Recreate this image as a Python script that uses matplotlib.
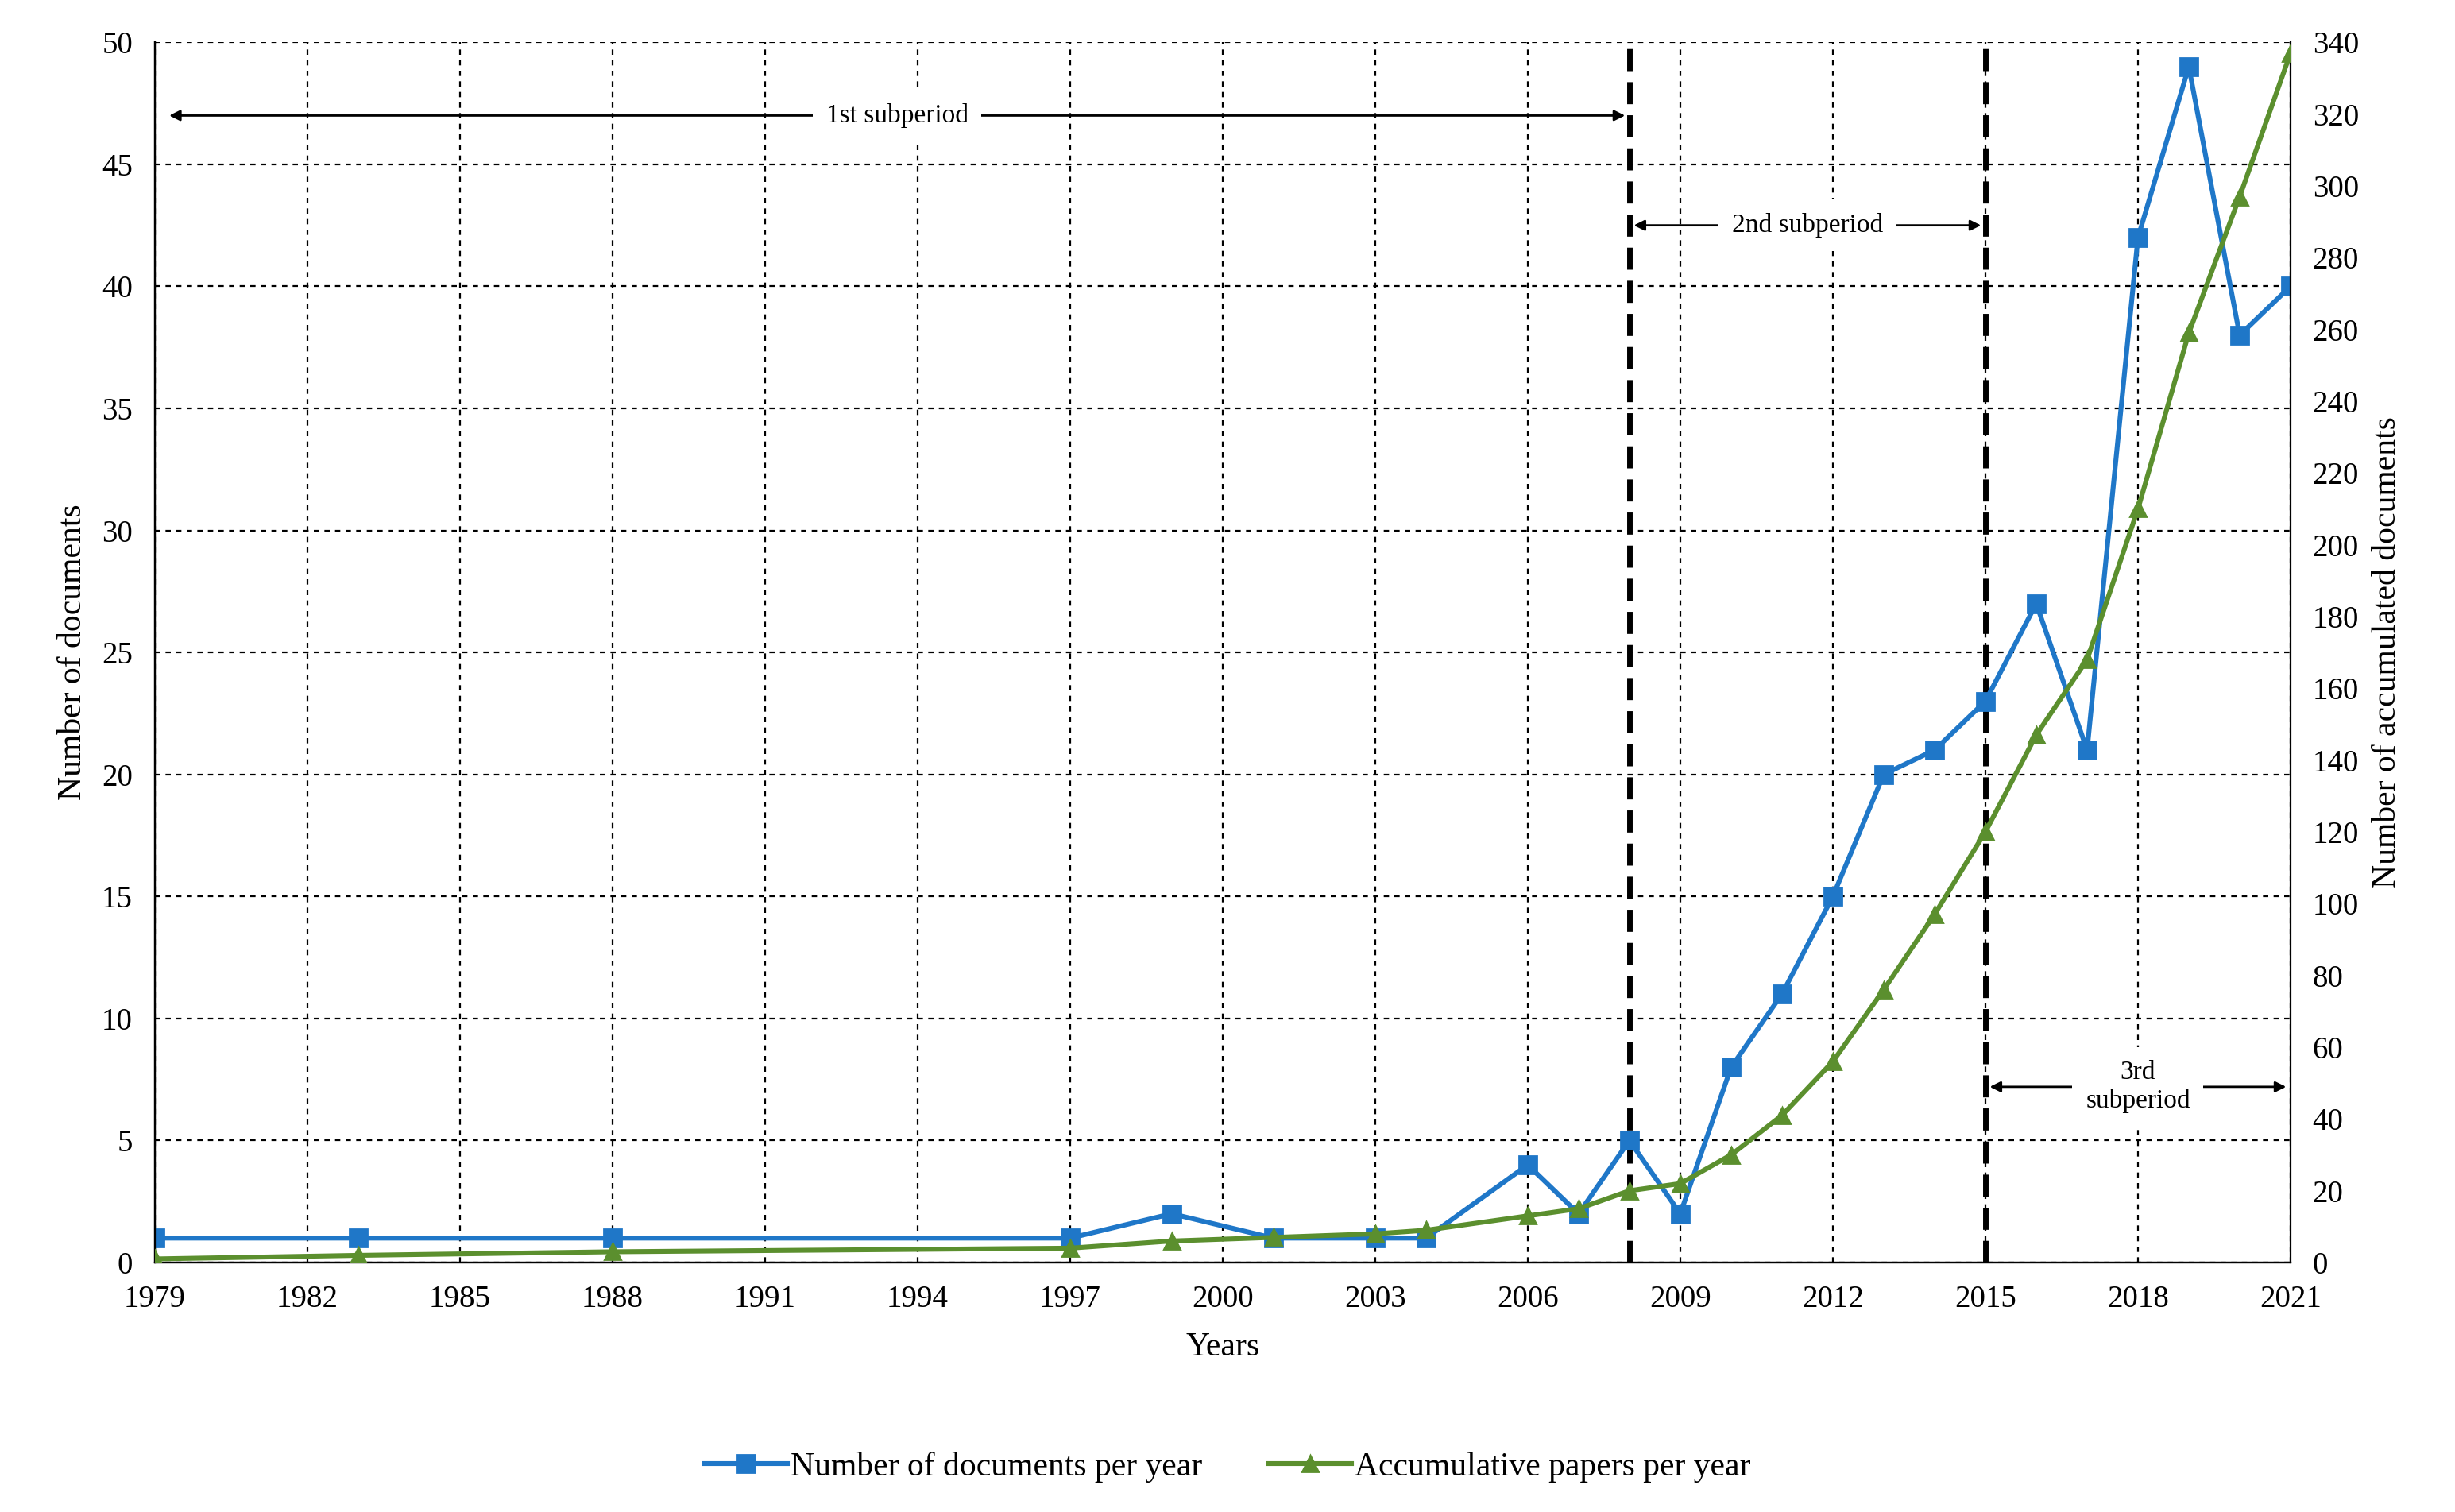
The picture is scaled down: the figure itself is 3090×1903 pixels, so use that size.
import matplotlib as mpl
mpl.use("Agg")
import matplotlib.pyplot as plt

mpl.rcParams.update({"font.family": ["Liberation Serif", "DejaVu Serif"]})
BLUE, GREEN = "#1f77c8", "#5b8f2e"

years = [1979, 1983, 1988, 1997, 1999, 2001, 2003, 2004, 2006, 2007, 2008, 2009,
         2010, 2011, 2012, 2013, 2014, 2015, 2016, 2017, 2018, 2019, 2020, 2021]
docs = [1, 1, 1, 1, 2, 1, 1, 1, 4, 2, 5, 2, 8, 11, 15, 20, 21, 23, 27, 21, 42, 49, 38, 40]
accum = [1, 2, 3, 4, 6, 7, 8, 9, 13, 15, 20, 22, 30, 41, 56, 76, 97, 120, 147, 168, 210, 259, 297, 337]
xticks = list(range(1979, 2022, 3))
splits = [2008, 2015]

fig = plt.figure(figsize=(15.45, 9.515), dpi=200)
ax = fig.add_axes([0.063, 0.165, 0.870, 0.807])
ax2 = ax.twinx()

ax.set_xlim(1979, 2021); ax.set_ylim(0, 50)
ax2.set_ylim(0, 340)
ax.set_xticks(xticks); ax.set_yticks(range(0, 51, 5))
ax2.set_yticks(range(0, 341, 20))
ax.grid(True, color="black", ls=(0, (3, 3)), lw=0.8)
for s in ["top", "right"]:
    ax.spines[s].set_visible(False)
ax2.spines["top"].set_visible(False)
for a in (ax, ax2):
    a.tick_params(labelsize=14, length=0, pad=10)

l1, = ax.plot(years, docs, "-s", color=BLUE, lw=2.2, ms=8, zorder=5,
              label="Number of documents per year")
l2, = ax2.plot(years, accum, "-^", color=GREEN, lw=2.2, ms=7, zorder=4,
               label="Accumulative papers per year")
for s in splits:
    ax.axvline(s, color="black", ls=(0, (4, 2)), lw=2.5, zorder=3)

def span(x0, x1, y, text):
    ax.annotate("", xy=(x0, y), xytext=(x1, y),
                arrowprops=dict(arrowstyle="<|-|>", color="black", lw=1, mutation_scale=10))
    ax.text((x0 + x1) / 2, y, text, ha="center", va="center", fontsize=12,
            bbox=dict(fc="white", ec="none", pad=6), zorder=6)

span(1979.2, 2008, 47, "1st subperiod")
span(2008, 2015, 42.5, "2nd subperiod")
span(2015, 2021, 7.2, "3rd\nsubperiod")

ax.set_xlabel("Years", fontsize=15, labelpad=8)
ax.set_ylabel("Number of documents", fontsize=15, labelpad=6)
ax2.set_ylabel("Number of accumulated documents", fontsize=15, labelpad=6)
fig.legend(handles=[l1, l2], loc="lower center", ncol=2, frameon=False, fontsize=15,
           bbox_to_anchor=(0.5, 0.0), handlelength=2.5, handletextpad=0.1)
fig.savefig("out.png", dpi=200)
